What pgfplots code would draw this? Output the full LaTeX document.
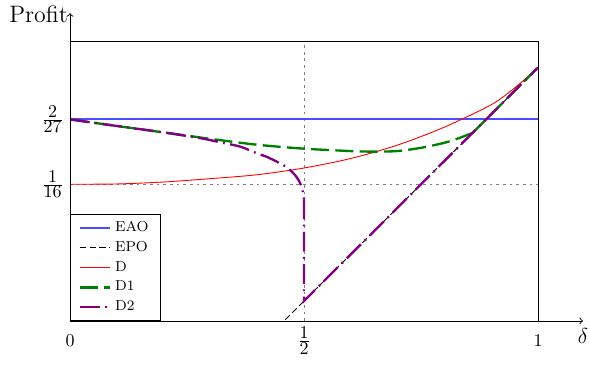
\documentclass[border=0pt]{standalone}
\usepackage{amsmath}
\usepackage{pgfplots}
\pgfplotsset{compat=1.18}
\usetikzlibrary{calc}
\definecolor{eao}{rgb}{0.3,0.3,1}
\definecolor{dgreen}{rgb}{0,0.5,0}
\definecolor{dviolet}{rgb}{0.5,0,0.5}
\newcommand{\tf}[2]{\frac{\textstyle #1}{\textstyle #2}}
\begin{document}
\begin{tikzpicture}
\begin{axis}[
  name=ax,
  scale only axis,
  width=260pt, height=155pt,
  xmin=0, xmax=1, ymin=0.0381, ymax=0.0879,
  scaled y ticks=false, scaled x ticks=false,
  xtick={0,0.5,1},
  xticklabels={$\vphantom{\tf12}0$,$\tf12$,$\vphantom{\tf12}1$},
  ytick={0.0625,0.0740741},
  yticklabels={$\tf{1}{16}$,$\tf{2}{27}$},
  major tick length=0pt,
  grid=major,
  grid style={gray, dash pattern=on 1.5pt off 2.2pt, line width=0.4pt},
  legend style={at={(0,0)}, anchor=south west, font=\footnotesize, draw=black, inner xsep=4.5pt},
  legend cell align=left,
  axis line style={line width=0.5pt},
]
\addplot[draw=eao, line width=1.2pt, solid] table[row sep=\\] {x y\\ 0 0.0740741\\ 1 0.0740741\\};
\addlegendentry{EAO}
\addplot[black, line width=0.5pt, dash pattern=on 3.5pt off 2pt] coordinates {(0.4,0.0333333) (1,0.0833333)};
\addlegendentry{EPO}
\addplot[red, line width=0.5pt, smooth] coordinates {
(0,0.0625) (0.1,0.06255) (0.2,0.0629) (0.3,0.0635) (0.4,0.0642) (0.5,0.0654)
(0.6,0.0671) (0.7,0.0695) (0.8,0.0727) (0.9,0.0767) (0.95,0.0797) (1,0.0833)};
\addlegendentry{D}
\addplot[dgreen, line width=1.3pt, dash pattern=on 10pt off 3.5pt, smooth] coordinates {
(0,0.07407) (0.1,0.07290) (0.2,0.07175) (0.3,0.07060) (0.4,0.06955) (0.5,0.06885)
(0.6,0.06842) (0.65,0.06832) (0.7,0.06843) (0.75,0.0690) (0.8,0.0699) (0.83,0.0707)
(0.86,0.07167)};
\addlegendentry{D1}
\addplot[dgreen, line width=1.3pt, dash pattern=on 10pt off 3.5pt, forget plot] coordinates {
(0.86,0.07167) (1,0.0833333)};
\addplot[dviolet, line width=1.3pt, dash pattern=on 11pt off 3pt on 1pt off 3pt, smooth] coordinates {
(0,0.07407) (0.1,0.0729) (0.2,0.07175) (0.28,0.0707) (0.32,0.0700) (0.36,0.0693)
(0.38,0.0687) (0.4,0.0680) (0.42,0.0674) (0.44,0.0666) (0.46,0.0657) (0.47,0.06505)
(0.48,0.0642) (0.488,0.0633) (0.494,0.0622) (0.498,0.0609) (0.5,0.0598)};
\addlegendentry{D2}
\addplot[dviolet, line width=1.3pt, dash pattern=on 11pt off 3pt on 1pt off 3pt, forget plot] coordinates {
(0.5,0.0598) (0.5,0.0416667) (1,0.0833333)};
\end{axis}
\draw[->, line width=0.5pt] (ax.south west) -- ++(285pt,0);
\draw[->, line width=0.5pt] (ax.south west) -- ++(0,171pt);
\node[anchor=base east, font=\fontsize{13.2}{15}\selectfont, inner sep=0pt] at ($(ax.north west)+(-1pt,10.7pt)$) {Profit};
\node[font=\fontsize{13}{15}\selectfont] at ($(ax.south east)+(25pt,-8.3pt)$) {$\delta$};
\pgfresetboundingbox
\path ($(ax.south west)+(-38.9pt,178.3pt)$) rectangle ($(ax.south west)+(288.3pt,-24.4pt)$);
\end{tikzpicture}
\end{document}
